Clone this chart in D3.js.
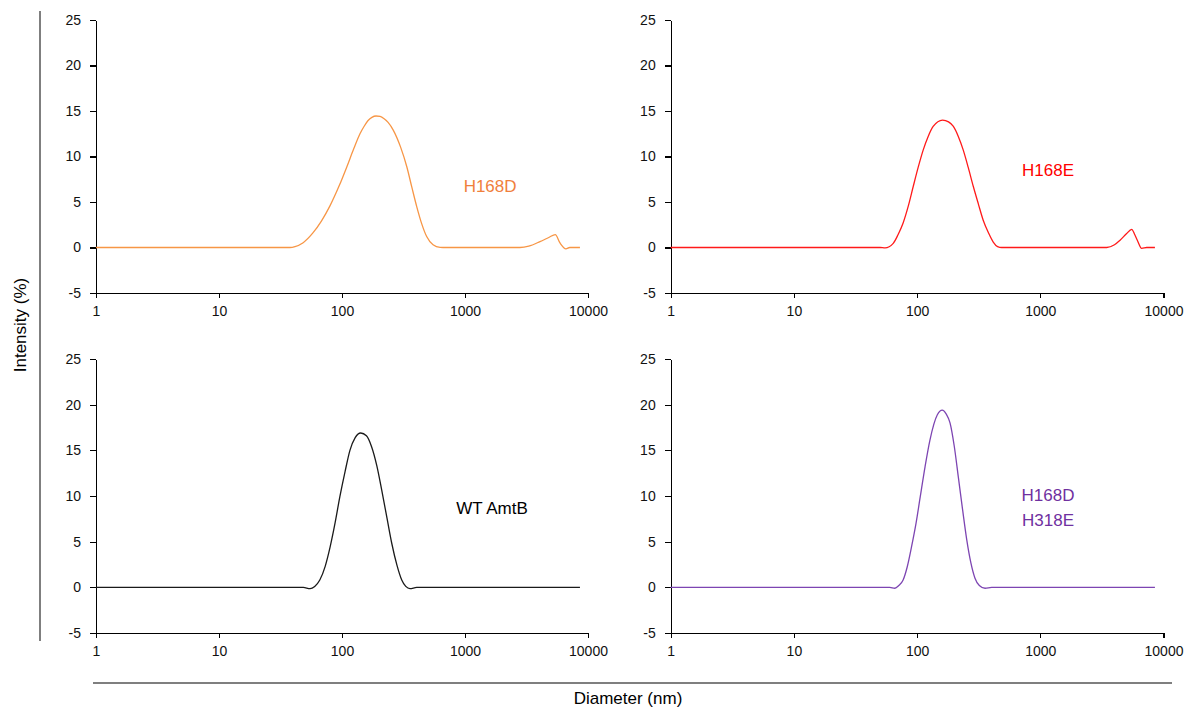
<!DOCTYPE html>
<html>
<head>
<meta charset="utf-8">
<script src="https://cdnjs.cloudflare.com/ajax/libs/d3/7.8.5/d3.min.js"></script>
<style>
  body { margin: 0; background: #fff; }
  svg { font-family: "Liberation Sans", Arial, sans-serif; }
  .axis path, .axis line { stroke: #000; stroke-width: 1.3; shape-rendering: crispEdges; }
  .axis text { font-size: 14px; fill: #111; }
</style>
</head>
<body>
<div id="chart"></div>
<script>
// size readings (nm) and intensity (%)
var h168dDiam = [1, 30, 37.8, 41.5, 48, 58, 68, 80, 95, 109, 125, 140, 151, 163, 175, 189, 204, 220, 237, 261, 300, 336, 370, 405, 445, 488, 550, 627, 700, 1000, 2000, 2800, 3300, 4070, 4800, 5420, 5920, 6620, 7100, 8600];
var h168dInt  = [0, 0, 0, 0.1, 0.5, 1.6, 2.9, 4.6, 6.8, 8.8, 10.9, 12.5, 13.3, 13.95, 14.3, 14.45, 14.4, 14.15, 13.75, 12.9, 11.0, 8.9, 6.6, 4.5, 2.6, 1.2, 0.3, 0.02, 0, 0, 0, 0, 0.15, 0.65, 1.1, 1.42, 0.5, -0.15, 0, 0];

var h168eDiam = [1, 50, 55, 64, 70, 77, 85, 93, 102, 112, 123, 135, 161, 180, 197, 216, 237, 260, 286, 314, 344, 380, 415, 450, 486, 3460, 4000, 4440, 5000, 5520, 5850, 6130, 6650, 7310, 8520];
var h168eInt  = [0, 0, -0.05, 0.45, 1.4, 2.7, 4.6, 6.7, 8.8, 10.7, 12.2, 13.3, 14.0, 13.8, 13.3, 12.2, 10.7, 8.8, 6.7, 4.8, 3.0, 1.6, 0.6, 0.1, 0, 0, 0.3, 0.8, 1.5, 2.0, 1.4, 0.8, -0.1, 0, 0];

var wtDiam = [1, 48.5, 55, 60, 66, 73, 80, 88, 96, 106, 116, 128, 142, 158, 174, 192, 210, 232, 254, 280, 306, 330, 357, 405, 8600];
var wtInt  = [0, 0, -0.15, 0.1, 0.8, 2.3, 4.4, 7.1, 9.9, 12.7, 15.0, 16.4, 16.9, 16.6, 15.4, 13.3, 10.7, 7.6, 4.8, 2.4, 0.8, 0.1, -0.15, 0, 0];

var dblDiam = [1, 60, 66, 71, 77, 83, 90, 98, 106, 116, 127, 146, 160, 172, 185, 200, 216, 234, 253, 273, 295, 320, 356, 403, 8520];
var dblInt  = [0, 0, -0.1, 0.2, 0.8, 2.2, 4.4, 7.0, 9.9, 13.2, 16.1, 18.9, 19.4, 19.0, 18.0, 15.5, 12.1, 8.5, 5.2, 2.7, 1.0, 0.2, -0.1, 0, 0];

var xTicks = [1, 10, 100, 1000, 10000];
var yTicks = [-5, 0, 5, 10, 15, 20, 25];

var W = 1196, H = 715;

var svg = d3.select("#chart").append("svg")
    .attr("width", W)
    .attr("height", H);

var panels = [
  {name: ["H168D"], diam: h168dDiam, vals: h168dInt, line: "#F79646", text: "#F0803C",
   x0: 96, x1: 588, y0: 20, y1: 293, lx: 1600, ly: [6.1]},
  {name: ["H168E"], diam: h168eDiam, vals: h168eInt, line: "#FF1A1A", text: "#FF0000",
   x0: 670.7, x1: 1163.5, y0: 20, y1: 293, lx: 1155, ly: [7.9]},
  {name: ["WT AmtB"], diam: wtDiam, vals: wtInt, line: "#1a1a1a", text: "#000",
   x0: 96, x1: 588, y0: 359, y1: 633, lx: 1660, ly: [8.0]},
  {name: ["H168D", "H318E"], diam: dblDiam, vals: dblInt, line: "#7D45B2", text: "#7030A0",
   x0: 670.7, x1: 1163.5, y0: 359, y1: 633, lx: 1155, ly: [9.46, 6.72]}
];

panels.forEach(function(p) {
  var x = d3.scaleLog().domain([1, 10000]).range([p.x0, p.x1]);
  var y = d3.scaleLinear().domain([-5, 25]).range([p.y1, p.y0]);

  var g = svg.append("g");

  g.append("g")
      .attr("class", "axis")
      .attr("transform", "translate(0," + p.y1 + ")")
      .call(d3.axisBottom(x).tickValues(xTicks).tickFormat(function(d) { return String(d); })
        .tickSize(5).tickSizeOuter(0).tickPadding(8.5));

  g.append("g")
      .attr("class", "axis")
      .attr("transform", "translate(" + p.x0 + ",0)")
      .call(d3.axisLeft(y).tickValues(yTicks).tickFormat(function(d) { return String(d); })
        .tickSize(6).tickSizeOuter(0).tickPadding(9));

  var pts = p.diam.map(function(d, i) { return [d, p.vals[i]]; });

  var line = d3.line()
      .x(function(d) { return x(d[0]); })
      .y(function(d) { return y(d[1]); })
      .curve(d3.curveMonotoneX);

  g.append("path")
      .datum(pts)
      .attr("fill", "none")
      .attr("stroke", p.line)
      .attr("stroke-width", 1.3)
      .attr("d", line);

  p.name.forEach(function(t, i) {
    g.append("text")
        .attr("x", x(p.lx))
        .attr("y", y(p.ly[i]))
        .attr("text-anchor", "middle")
        .attr("font-size", "17px")
        .attr("fill", p.text)
        .text(t);
  });
});

// outer frame lines
svg.append("line")
    .attr("x1", 40).attr("x2", 40)
    .attr("y1", 11).attr("y2", 641)
    .attr("stroke", "#555").attr("stroke-width", 1.5);

svg.append("line")
    .attr("x1", 93).attr("x2", 1172)
    .attr("y1", 683).attr("y2", 683)
    .attr("stroke", "#555").attr("stroke-width", 1.5);

svg.append("text")
    .attr("transform", "translate(26,325) rotate(-90)")
    .attr("text-anchor", "middle")
    .attr("font-size", "17px")
    .attr("fill", "#000")
    .text("Intensity (%)");

svg.append("text")
    .attr("x", 628)
    .attr("y", 704)
    .attr("text-anchor", "middle")
    .attr("font-size", "17px")
    .attr("fill", "#000")
    .text("Diameter (nm)");
</script>
</body>
</html>
